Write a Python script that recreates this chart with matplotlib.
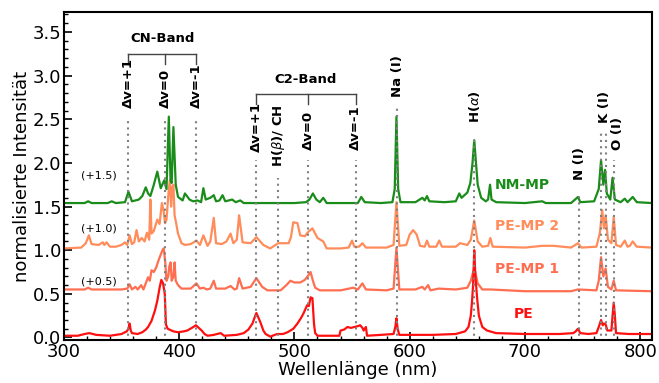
import numpy as np
import matplotlib.pyplot as plt
from matplotlib.ticker import MultipleLocator

# Spektren (Wellenlaenge in nm, Intensitaet ohne Versatz)
nm_mp_wl = [300, 318, 321, 324, 338, 341.5, 345, 353, 356, 359, 365, 368, 371, 373, 375, 378,
            381, 384, 387, 389, 391, 392.5, 393.5, 395, 397, 399, 403, 405, 409, 412, 416, 419,
            421, 423, 427, 430, 432, 435, 437.6, 440, 446, 449, 453, 456, 470, 490, 500, 510,
            513, 516, 519, 522, 525, 528, 540, 555, 558, 561, 575, 585, 587, 588.5, 590, 592,
            605, 611, 613, 615, 617, 630, 640, 643, 645, 650, 652.6, 654.5, 656, 657.5, 659,
            662, 666, 668, 669.7, 671, 675, 700, 715, 718, 740, 746, 748, 760, 764, 766, 768,
            769.5, 771, 774, 776, 778, 783, 786.6, 789, 793.5, 797, 810]
nm_mp_int = [0.04, 0.04, 0.06, 0.04, 0.04, 0.06, 0.04, 0.05, 0.17, 0.06, 0.08, 0.12, 0.22, 0.15,
             0.12, 0.25, 0.40, 0.21, 0.30, 0.20, 1.03, 0.30, 0.27, 0.91, 0.25, 0.11, 0.07, 0.15,
             0.08, 0.06, 0.07, 0.05, 0.21, 0.08, 0.10, 0.13, 0.06, 0.07, 0.13, 0.06, 0.08, 0.05,
             0.07, 0.04, 0.04, 0.04, 0.04, 0.05, 0.08, 0.15, 0.08, 0.05, 0.10, 0.04, 0.04, 0.04,
             0.11, 0.05, 0.04, 0.05, 0.20, 1.03, 0.20, 0.05, 0.05, 0.10, 0.07, 0.12, 0.06, 0.05,
             0.06, 0.15, 0.10, 0.16, 0.27, 0.50, 0.76, 0.50, 0.25, 0.10, 0.06, 0.08, 0.25, 0.08,
             0.05, 0.04, 0.06, 0.04, 0.04, 0.11, 0.05, 0.06, 0.20, 0.53, 0.25, 0.42, 0.15, 0.08,
             0.33, 0.08, 0.05, 0.09, 0.05, 0.11, 0.05, 0.04]

pe_mp2_wl = [300, 315, 319, 321.6, 324, 330, 333.8, 335, 337, 340, 345, 350, 353, 355, 357, 359,
             361, 363, 365, 367.5, 370, 372, 374, 375, 376, 378, 381, 383, 385, 386.5, 387.7,
             389, 391, 392, 393, 394, 395, 396, 397.5, 399, 402, 405, 410, 415, 418, 421, 424.6,
             427, 430, 432, 437, 441, 444.6, 447, 450, 452, 455, 462, 467, 473, 479, 486, 495,
             497, 499, 502.6, 505, 509, 512, 515.6, 520, 525, 528, 540, 547, 550, 552, 556, 559,
             562, 580, 586, 588.5, 591, 597, 600, 603, 606, 609, 613, 615, 617, 623, 625.6, 628,
             640, 643.7, 650, 653, 656, 659, 663, 668, 670, 672, 700, 715, 725, 740, 746, 749,
             762, 765, 767, 768.5, 770, 772, 775, 777, 779, 783, 786.6, 789, 791, 793.5, 797, 810]
pe_mp2_int = [0.02, 0.03, 0.08, 0.17, 0.07, 0.06, 0.09, 0.06, 0.09, 0.04, 0.04, 0.06, 0.09, 0.06,
              0.17, 0.07, 0.09, 0.23, 0.10, 0.14, 0.10, 0.20, 0.12, 0.58, 0.19, 0.22, 0.35, 0.30,
              0.54, 0.45, 0.31, 0.35, 0.70, 0.80, 0.50, 0.72, 0.75, 0.40, 0.30, 0.19, 0.08, 0.06,
              0.07, 0.11, 0.06, 0.17, 0.05, 0.10, 0.37, 0.08, 0.07, 0.10, 0.19, 0.08, 0.12, 0.40,
              0.09, 0.08, 0.15, 0.06, 0.02, 0.08, 0.08, 0.15, 0.32, 0.31, 0.17, 0.16, 0.21, 0.25,
              0.14, 0.10, 0.02, 0.02, 0.03, 0.11, 0.04, 0.04, 0.08, 0.03, 0.03, 0.06, 0.55, 0.05,
              0.06, 0.18, 0.23, 0.18, 0.05, 0.04, 0.11, 0.04, 0.04, 0.11, 0.04, 0.04, 0.08, 0.06,
              0.12, 0.34, 0.10, 0.04, 0.05, 0.14, 0.04, 0.03, 0.05, 0.05, 0.03, 0.08, 0.03, 0.04,
              0.20, 0.46, 0.25, 0.40, 0.12, 0.08, 0.38, 0.06, 0.04, 0.11, 0.04, 0.05, 0.10, 0.04,
              0.03]

pe_mp1_wl = [300, 318, 321, 324, 350, 355, 357, 359, 362, 364, 367, 369, 371, 373, 374.5, 376,
             378, 380, 382, 384, 385.5, 386.6, 388, 389, 390.5, 391.5, 392.6, 393.5, 395, 396,
             397, 399, 402, 410, 415, 418, 421, 424, 427, 430, 432, 440, 444.6, 448, 450, 452,
             455, 462, 467, 472, 476.6, 488, 493, 496.5, 500, 505, 509, 512, 514, 516, 518, 522,
             540, 551, 555, 559, 562, 580, 586, 588.5, 591, 605, 611, 613, 616, 618, 625, 640,
             650, 653, 656, 659, 663, 670, 700, 740, 746, 762, 764, 766, 768, 770, 772, 775, 777,
             779, 810]
pe_mp1_int = [0.05, 0.05, 0.07, 0.05, 0.05, 0.06, 0.11, 0.05, 0.08, 0.05, 0.10, 0.05, 0.12, 0.19,
              0.15, 0.27, 0.25, 0.30, 0.38, 0.45, 0.50, 0.52, 0.35, 0.15, 0.20, 0.32, 0.36, 0.15,
              0.20, 0.36, 0.15, 0.10, 0.06, 0.06, 0.12, 0.06, 0.07, 0.05, 0.06, 0.15, 0.06, 0.06,
              0.09, 0.05, 0.06, 0.18, 0.06, 0.08, 0.18, 0.08, 0.04, 0.04, 0.10, 0.15, 0.13, 0.13,
              0.16, 0.21, 0.25, 0.15, 0.07, 0.04, 0.04, 0.07, 0.05, 0.12, 0.05, 0.04, 0.06, 0.53,
              0.05, 0.05, 0.08, 0.05, 0.10, 0.04, 0.06, 0.05, 0.07, 0.15, 0.30, 0.12, 0.05, 0.05,
              0.03, 0.03, 0.05, 0.04, 0.15, 0.42, 0.20, 0.29, 0.08, 0.05, 0.15, 0.04, 0.03]

pe_wl = [300, 312, 318, 322, 328, 340, 350, 354.5, 356, 357, 358, 359, 364, 368, 371, 373, 376,
         379, 381, 383, 384.5, 386, 387.5, 388.5, 390, 395, 399, 404, 407, 411, 414.5, 417, 419.5,
         422, 424.7, 430, 436, 439, 450, 456, 460, 463.6, 466, 467, 469, 470.6, 473, 475, 479,
         485, 490, 494, 499, 502.6, 506, 508, 511, 512.5, 514, 515.6, 517, 518, 520, 539, 540,
         543, 546, 549, 552, 555, 557, 559, 560, 562, 563, 575, 586, 587.5, 588.5, 589.5, 591,
         620, 640, 648, 651, 653, 654, 655, 656, 657, 658.5, 660, 663, 667, 675, 700, 730, 742,
         744, 746, 748, 755, 762, 764, 766, 767.5, 768.5, 770, 771.5, 775, 776, 777, 778, 779,
         790, 810]
pe_int = [0.02, 0.02, 0.04, 0.05, 0.03, 0.02, 0.04, 0.07, 0.10, 0.16, 0.08, 0.05, 0.04, 0.06,
          0.09, 0.12, 0.19, 0.31, 0.42, 0.57, 0.66, 0.62, 0.50, 0.15, 0.10, 0.07, 0.06, 0.07,
          0.08, 0.11, 0.14, 0.11, 0.08, 0.04, 0.02, 0.03, 0.05, 0.02, 0.03, 0.05, 0.09, 0.16,
          0.25, 0.28, 0.22, 0.17, 0.08, 0.04, 0.01, 0.04, 0.04, 0.06, 0.10, 0.16, 0.23, 0.28,
          0.37, 0.36, 0.46, 0.45, 0.15, 0.05, 0.02, 0.02, 0.08, 0.09, 0.12, 0.11, 0.12, 0.13,
          0.14, 0.11, 0.08, 0.12, 0.02, 0.03, 0.04, 0.12, 0.22, 0.10, 0.03, 0.03, 0.04, 0.07,
          0.12, 0.25, 0.40, 0.60, 1.00, 0.70, 0.45, 0.25, 0.12, 0.08, 0.05, 0.04, 0.04, 0.05,
          0.07, 0.10, 0.05, 0.04, 0.05, 0.12, 0.20, 0.14, 0.16, 0.15, 0.08, 0.08, 0.25, 0.40,
          0.25, 0.05, 0.04, 0.04]

series_names = ['NM-MP', 'PE-MP 2', 'PE-MP 1', 'PE']
series_offsets = [1.5, 1.0, 0.5, 0.0]
series_colors = ['#1a8c1a', '#ff8c5a', '#ff6e50', '#ff1010']
series_z = [2.2, 2.0, 2.3, 2.4]
series_wl = [nm_mp_wl, pe_mp2_wl, pe_mp1_wl, pe_wl]
series_int = [nm_mp_int, pe_mp2_int, pe_mp1_int, pe_int]
name_pos = [(698, 1.75), (702, 1.28), (702, 0.78), (699, 0.27)]

# Linien: Beschriftung, Wellenlaenge, Textunterkante, Oberkante der Punktlinie
line_labels = ['\u0394v=+1', '\u0394v=0', '\u0394v=-1', '\u0394v=+1', r'H($\beta$)/ CH', '\u0394v=0',
               '\u0394v=-1', 'Na (I)', r'H($\alpha$)', 'N (I)', 'K (I)', 'O (I)']
text_x = [356, 388, 415, 467, 486, 512, 553, 589, 656, 747, 769, 780.5]
text_y = [2.63, 2.63, 2.63, 2.13, 1.95, 2.15, 2.15, 2.76, 2.46, 1.80, 2.46, 2.15]
dot_wl = [356, 388, 415, 467, 486, 512, 553, 589, 656, 747, 766, 770, 777]
dot_top = [2.53, 2.53, 2.53, 2.03, 1.83, 2.03, 2.03, 2.64, 2.30, 1.67, 2.38, 2.38, 2.03]

fig = plt.figure(figsize=(6.59, 3.83), dpi=100)
ax = fig.add_axes([0.097, 0.112, 0.892, 0.857])

for wl, inten, off, col, z in zip(series_wl, series_int, series_offsets, series_colors, series_z):
    ax.plot(wl, np.array(inten) + off, color=col, lw=1.6, zorder=z)

for wl, top in zip(dot_wl, dot_top):
    ax.plot([wl, wl], [-0.05, top], color='#808080', ls=(0, (1, 2)), lw=1.5, zorder=3)

for lab, x, y in zip(line_labels, text_x, text_y):
    ax.text(x, y, lab, rotation=90, ha='center', va='bottom', fontsize=9.5, fontweight='bold')

for name, (x, y), col in zip(series_names, name_pos, series_colors):
    ax.text(x, y, name, ha='center', va='center', fontsize=10, fontweight='bold', color=col)

offset_y = [1.85, 1.25, 0.64]
for off, y in zip(series_offsets[:3], offset_y):
    ax.text(330, y, '(+%.1f)' % off, ha='center', va='center', fontsize=8)

# Banden-Klammern
def klammer(x_list, y, titel):
    ax.plot([x_list[0], x_list[-1]], [y, y], color='#444444', lw=1)
    for x in x_list:
        ax.plot([x, x], [y, y - 0.12], color='#444444', lw=1)
    ax.text(np.mean([x_list[0], x_list[-1]]), y + 0.17, titel, ha='center', va='center',
            fontsize=9.5, fontweight='bold')

klammer([356, 388, 415], 3.25, 'CN-Band')
klammer([467, 512, 553], 2.79, 'C2-Band')

ax.set_xlim(300, 810)
ax.set_ylim(-0.03, 3.73)
ax.xaxis.set_major_locator(MultipleLocator(100))
ax.xaxis.set_minor_locator(MultipleLocator(20))
ax.yaxis.set_major_locator(MultipleLocator(0.5))
ax.yaxis.set_minor_locator(MultipleLocator(0.1))
ax.tick_params(which='both', direction='in', top=False, right=False, labelsize=13)
ax.tick_params(which='major', length=6, width=1.2, pad=2)
ax.tick_params(which='minor', length=3, width=1)
for sp in ax.spines.values():
    sp.set_linewidth(1.5)
ax.set_xlabel('Wellenlänge (nm)', fontsize=13, labelpad=0)
ax.set_ylabel('normalisierte Intensität', fontsize=13, labelpad=1)

fig.savefig('out.png', dpi=100)
